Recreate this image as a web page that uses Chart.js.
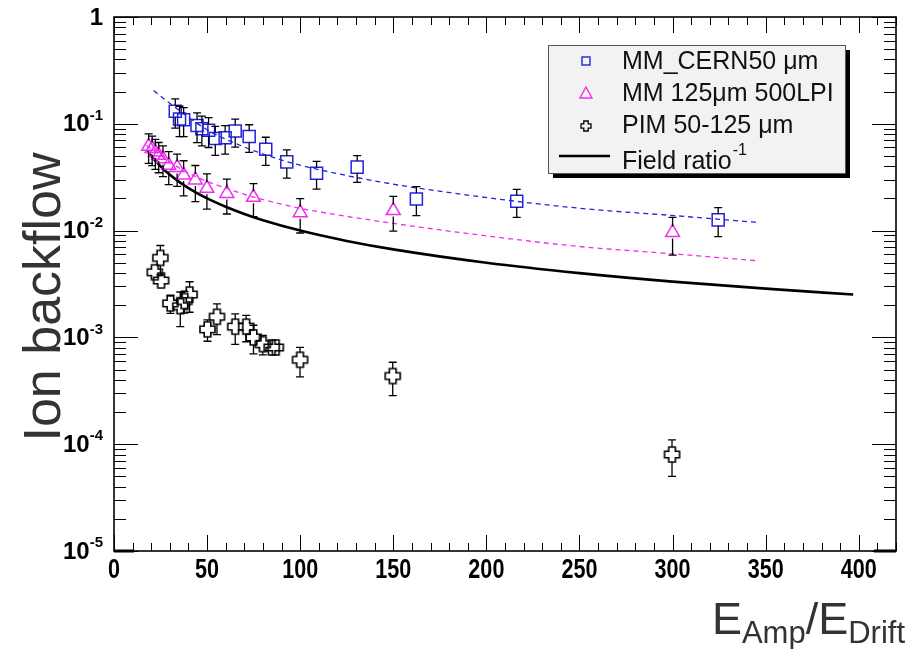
<!DOCTYPE html>
<html>
<head>
<meta charset="utf-8">
<script src="https://cdn.jsdelivr.net/npm/chart.js@4.4.1/dist/chart.umd.min.js"></script>
<style>
  html, body { margin: 0; padding: 0; background: #fff; }
  #wrap { width: 916px; height: 649px; }
</style>
</head>
<body>
<div id="wrap"><canvas id="ibf" width="916" height="649"></canvas></div>
<script>
// MM_CERN50 um (blue squares)
const cernX   = [32.9, 35.2, 37.4, 44.6, 47.2, 50.8, 54.4, 59.7, 65.1, 72.6, 81.5, 92.8, 108.8, 130.6, 162.4, 216.3, 324.5];
const cernY   = [0.131, 0.111, 0.109, 0.0966, 0.090, 0.087, 0.0727, 0.074, 0.0855, 0.076, 0.0578, 0.044, 0.0345, 0.0393, 0.0198, 0.0188, 0.0126];
const cernErr = [0.040, 0.035, 0.033, 0.030, 0.028, 0.027, 0.022, 0.022, 0.025, 0.022, 0.017, 0.013, 0.010, 0.011, 0.006, 0.0055, 0.0038];

// MM 125um 500LPI (magenta triangles)
const lpiX   = [18.6, 20.5, 22.2, 24.0, 26.3, 29.4, 33.9, 37.4, 43.7, 49.9, 60.6, 74.9, 100, 150, 300];
const lpiY   = [0.0616, 0.0586, 0.0545, 0.0508, 0.047, 0.041, 0.039, 0.0331, 0.0297, 0.0249, 0.0223, 0.0205, 0.0147, 0.0154, 0.0096];
const lpiErr = [0.019, 0.018, 0.017, 0.016, 0.015, 0.014, 0.013, 0.012, 0.011, 0.009, 0.008, 0.007, 0.0052, 0.0055, 0.0037];

// PIM 50-125 um (open crosses)
const pimX   = [21.9, 24.9, 25.3, 30.3, 35.6, 37.8, 40.6, 50.2, 55.3, 65.1, 71.0, 74.9, 79.9, 84.7, 86.9, 99.9, 149.7, 299.7];
const pimY   = [0.00407, 0.00555, 0.00341, 0.00208, 0.00196, 0.00219, 0.00252, 0.00119, 0.00156, 0.00126, 0.00126, 0.0010, 0.000865, 0.000805, 0.000805, 0.000617, 0.000435, 0.00008];
const pimErr = [0.0004, 0.0017, 0.0003, 0.0004, 0.0007, 0.0005, 0.0008, 0.00027, 0.0005, 0.0004, 0.00035, 0.0003, 0.00018, 0.00012, 0.00012, 0.00019, 0.00015, 0.00003];

// dashed fit curves
const cernFitX = [21.3, 28.5, 50, 70, 89.2, 99.9, 142.7, 196.3, 249.9, 303.4, 346.3];
const cernFitY = [0.205, 0.163, 0.088, 0.0606, 0.0463, 0.041, 0.0286, 0.0208, 0.0162, 0.0137, 0.0119];
const lpiFitX  = [17.4, 33.9, 45, 60, 75, 100, 142.7, 196.3, 249.9, 303.4, 346.3];
const lpiFitY  = [0.063, 0.0397, 0.0314, 0.0250, 0.0206, 0.0162, 0.0122, 0.0091, 0.0071, 0.0060, 0.0052];

// Field ratio^-1 (solid black)
const ratioX = [18, 20, 25, 30, 35, 40, 50, 60, 70, 80, 100, 125, 150, 200, 250, 300, 350, 397];
const ratioY = [0.0556, 0.05, 0.04, 0.0333, 0.0286, 0.025, 0.02, 0.0167, 0.0143, 0.0125, 0.01, 0.008, 0.00667, 0.005, 0.004, 0.00333, 0.00286, 0.00252];

// axis ticks
const xTickLabels = ['0', '50', '100', '150', '200', '250', '300', '350', '400'];
const yTickExp = [0, -1, -2, -3, -4, -5];

const BLUE = '#2323dc';
const MAGENTA = '#f02cf0';
const FONT = '"Liberation Sans", Arial, Helvetica, sans-serif';

function pts(xs, ys) {
    return xs.map((x, i) => ({ x: x, y: ys[i] }));
}

// open "+" marker like ROOT's style 28
function crossImage(size, color, lw) {
    const c = document.createElement('canvas');
    c.width = c.height = size + 4;
    const g = c.getContext('2d');
    const m = c.width / 2, h = size / 2, t = size * 0.22;
    g.strokeStyle = color;
    g.lineWidth = lw;
    g.beginPath();
    g.moveTo(m - t, m - h); g.lineTo(m + t, m - h); g.lineTo(m + t, m - t);
    g.lineTo(m + h, m - t); g.lineTo(m + h, m + t); g.lineTo(m + t, m + t);
    g.lineTo(m + t, m + h); g.lineTo(m - t, m + h); g.lineTo(m - t, m + t);
    g.lineTo(m - h, m + t); g.lineTo(m - h, m - t); g.lineTo(m - t, m - t);
    g.closePath();
    g.stroke();
    return c;
}
const crossImg = crossImage(15, '#000', 1.6);

// vertical error bars, not drawn through the marker
const errorBars = {
    id: 'errorBars',
    afterDatasetsDraw(chart) {
        const { ctx, scales: { x, y }, chartArea } = chart;
        ctx.save();
        ctx.strokeStyle = '#000';
        ctx.lineWidth = 1.3;
        chart.data.datasets.forEach(ds => {
            if (!ds.errors) return;
            const gap = ds.markerHalf;
            ds.data.forEach((p, j) => {
                const px = x.getPixelForValue(p.x);
                const py = y.getPixelForValue(p.y);
                const top = y.getPixelForValue(p.y + ds.errors[j]);
                const lo = p.y - ds.errors[j];
                const bot = lo > 0 ? y.getPixelForValue(lo) : chartArea.bottom;
                ctx.beginPath();
                if (py - gap > top) {
                    ctx.moveTo(px, py - gap); ctx.lineTo(px, top);
                    ctx.moveTo(px - 4, top); ctx.lineTo(px + 4, top);
                }
                if (py + gap < bot) {
                    ctx.moveTo(px, py + gap); ctx.lineTo(px, bot);
                    ctx.moveTo(px - 4, bot); ctx.lineTo(px + 4, bot);
                }
                ctx.stroke();
            });
        });
        ctx.restore();
    }
};

// ROOT style frame, inward ticks on all sides, labels and titles
const rootFrame = {
    id: 'rootFrame',
    afterDraw(chart) {
        const { ctx, chartArea: a, scales: { x, y } } = chart;
        ctx.save();
        ctx.strokeStyle = '#000';
        ctx.lineWidth = 1;
        ctx.beginPath();
        for (let v = x.min; v <= x.max; v += 10) {
            const px = Math.round(x.getPixelForValue(v)) + 0.5;
            const len = v % 50 === 0 ? 16 : 8;
            ctx.moveTo(px, a.bottom); ctx.lineTo(px, a.bottom - len);
            ctx.moveTo(px, a.top); ctx.lineTo(px, a.top + len);
        }
        yTickExp.forEach(e => {
            for (let m = 1; m <= 9; m++) {
                const v = m * Math.pow(10, e);
                if (v > y.max) break;
                const py = Math.round(y.getPixelForValue(v)) + 0.5;
                const len = m === 1 ? 24 : 12;
                ctx.moveTo(a.left, py); ctx.lineTo(a.left + len, py);
                ctx.moveTo(a.right, py); ctx.lineTo(a.right - len, py);
            }
        });
        ctx.stroke();

        ctx.lineWidth = 1.6;
        ctx.strokeRect(a.left, a.top, a.right - a.left, a.bottom - a.top);
        ctx.lineWidth = 3;
        ctx.beginPath();
        ctx.moveTo(a.left, a.bottom); ctx.lineTo(a.left + 20, a.bottom);
        ctx.moveTo(a.right - 22, a.bottom); ctx.lineTo(a.right, a.bottom);
        ctx.stroke();

        // x tick labels (narrow bold)
        ctx.fillStyle = '#000';
        ctx.textAlign = 'center';
        ctx.textBaseline = 'top';
        ctx.font = 'bold 27px ' + FONT;
        xTickLabels.forEach(t => {
            const px = x.getPixelForValue(Number(t));
            ctx.save();
            ctx.translate(px, a.bottom + 6);
            ctx.scale(0.8, 1);
            ctx.fillText(t, 0, 0);
            ctx.restore();
        });

        // y tick labels 10^n
        const right = a.left - 11;
        yTickExp.forEach(e => {
            const py = y.getPixelForValue(Math.pow(10, e));
            ctx.textBaseline = 'middle';
            ctx.textAlign = 'right';
            if (e === 0) {
                ctx.font = 'bold 24px ' + FONT;
                ctx.fillText('1', right, py + 1);
                return;
            }
            const sup = String(e);
            ctx.font = 'bold 15px ' + FONT;
            const sw = ctx.measureText(sup).width;
            ctx.fillText(sup, right, py - 8);
            ctx.font = 'bold 24px ' + FONT;
            ctx.fillText('10', right - sw, py + 1);
        });

        // axis titles
        ctx.fillStyle = '#333';
        ctx.save();
        ctx.translate(60, 297);
        ctx.rotate(-Math.PI / 2);
        ctx.textAlign = 'center';
        ctx.textBaseline = 'alphabetic';
        ctx.font = '52px ' + FONT;
        ctx.fillText('Ion backflow', 0, 0);
        ctx.restore();

        const parts = [['E', 45, 0], ['Amp', 31, 9], ['/', 45, 0], ['E', 45, 0], ['Drift', 31, 9]];
        ctx.textAlign = 'left';
        ctx.textBaseline = 'alphabetic';
        let total = 0;
        parts.forEach(p => { ctx.font = p[1] + 'px ' + FONT; total += ctx.measureText(p[0]).width; });
        let cx = 905 - total;
        parts.forEach(p => {
            ctx.font = p[1] + 'px ' + FONT;
            ctx.fillText(p[0], cx, 634 + p[2]);
            cx += ctx.measureText(p[0]).width;
        });
        ctx.restore();
    }
};

// legend box with drop shadow
const rootLegend = {
    id: 'rootLegend',
    afterDraw(chart) {
        const ctx = chart.ctx;
        const L = 548, T = 45, W = 297, H = 128;
        ctx.save();
        ctx.fillStyle = '#000';
        ctx.fillRect(L + 5, T + 5, W, H);
        ctx.fillStyle = '#f2f2f2';
        ctx.fillRect(L, T, W, H);
        ctx.strokeStyle = '#555';
        ctx.lineWidth = 1;
        ctx.strokeRect(L + 0.5, T + 0.5, W, H);

        const mx = 586, tx = 622;
        // square
        ctx.strokeStyle = BLUE; ctx.lineWidth = 1.4;
        ctx.strokeRect(mx - 4, 61 - 4, 8, 8);
        // triangle
        ctx.strokeStyle = MAGENTA;
        ctx.beginPath();
        ctx.moveTo(mx, 87); ctx.lineTo(mx + 6, 98); ctx.lineTo(mx - 6, 98); ctx.closePath();
        ctx.stroke();
        // cross
        ctx.drawImage(crossImage(10, '#000', 1.3), mx - 7, 126 - 7);
        // line
        ctx.strokeStyle = '#000'; ctx.lineWidth = 2.5;
        ctx.beginPath(); ctx.moveTo(559, 156); ctx.lineTo(610, 156); ctx.stroke();

        ctx.fillStyle = '#111';
        ctx.textAlign = 'left';
        ctx.textBaseline = 'middle';
        ctx.font = '25px ' + FONT;
        ctx.fillText('MM_CERN50 \u03bcm', tx, 62);
        ctx.fillText('MM 125\u03bcm 500LPI', tx, 94);
        ctx.fillText('PIM 50-125 \u03bcm', tx, 126);
        ctx.fillText('Field ratio', tx, 162);
        const fw = ctx.measureText('Field ratio').width;
        ctx.font = '16px ' + FONT;
        ctx.fillText('-1', tx + fw + 1, 151);
        ctx.restore();
    }
};

new Chart(document.getElementById('ibf'), {
    type: 'scatter',
    data: {
        datasets: [
            {
                label: 'MM_CERN50 \u03bcm',
                data: pts(cernX, cernY),
                errors: cernErr,
                markerHalf: 6,
                pointStyle: 'rect',
                pointRadius: 8.5,
                pointBorderWidth: 1.5,
                borderColor: BLUE,
                backgroundColor: 'rgba(0,0,0,0)'
            },
            {
                label: 'MM 125\u03bcm 500LPI',
                data: pts(lpiX, lpiY),
                errors: lpiErr,
                markerHalf: 6,
                pointStyle: 'triangle',
                pointRadius: 8,
                pointBorderWidth: 1.5,
                borderColor: MAGENTA,
                backgroundColor: 'rgba(0,0,0,0)'
            },
            {
                label: 'PIM 50-125 \u03bcm',
                data: pts(pimX, pimY),
                errors: pimErr,
                markerHalf: 7.5,
                pointStyle: crossImg,
                pointRadius: 7,
                borderColor: '#000',
                backgroundColor: 'rgba(0,0,0,0)'
            },
            {
                label: 'fit CERN',
                data: pts(cernFitX, cernFitY),
                showLine: true,
                pointRadius: 0,
                borderColor: BLUE,
                borderWidth: 1.3,
                borderDash: [5, 4],
                cubicInterpolationMode: 'monotone'
            },
            {
                label: 'fit LPI',
                data: pts(lpiFitX, lpiFitY),
                showLine: true,
                pointRadius: 0,
                borderColor: MAGENTA,
                borderWidth: 1.3,
                borderDash: [5, 4],
                cubicInterpolationMode: 'monotone'
            },
            {
                label: 'Field ratio-1',
                data: pts(ratioX, ratioY),
                showLine: true,
                pointRadius: 0,
                borderColor: '#000',
                borderWidth: 2.6,
                cubicInterpolationMode: 'monotone'
            }
        ]
    },
    options: {
        responsive: false,
        animation: false,
        devicePixelRatio: 1,
        layout: { padding: { left: 114, top: 17, right: 20, bottom: 98 } },
        scales: {
            x: { type: 'linear', min: 0, max: 420, display: false },
            y: { type: 'logarithmic', min: 1e-5, max: 1, display: false }
        },
        plugins: {
            legend: { display: false },
            tooltip: { enabled: false }
        }
    },
    plugins: [errorBars, rootFrame, rootLegend]
});
</script>
</body>
</html>
